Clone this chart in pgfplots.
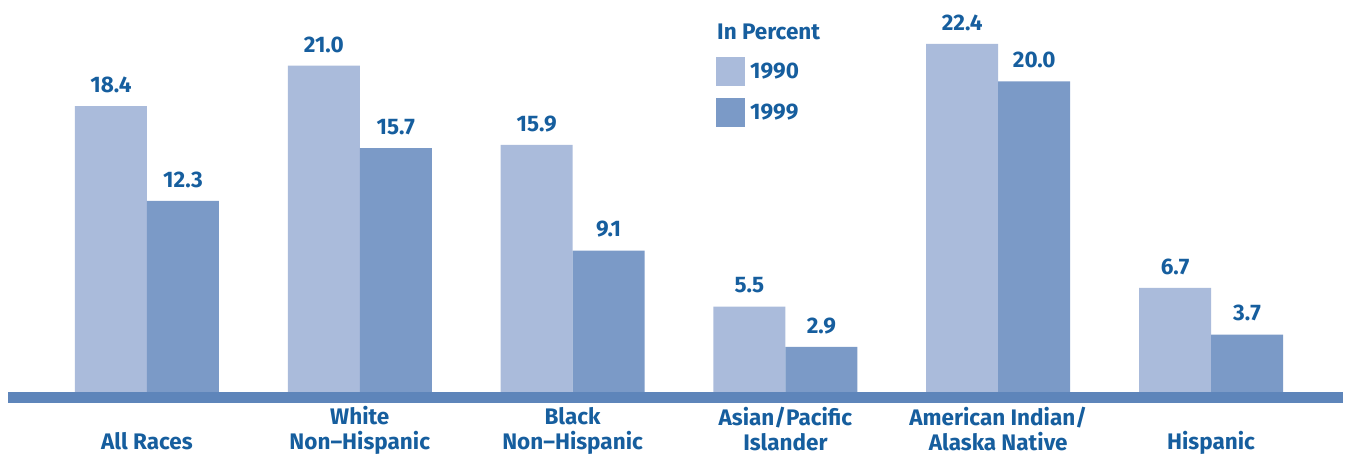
\documentclass[border=0pt]{standalone}
\usepackage{pgfplots}
\pgfplotsset{compat=1.18}
\usepackage{fontspec}
\setmainfont{Fira Sans}
\definecolor{tblue}{RGB}{22,94,158}
\definecolor{lightbar}{RGB}{170,187,219}
\definecolor{darkbar}{RGB}{123,154,199}
\definecolor{bandblue}{RGB}{94,133,186}
\newcommand{\lblfont}{\fontsize{22.5}{25}\selectfont\bfseries}
\newcommand{\fl}{\rule{0pt}{18pt}}
\begin{document}
\begin{tikzpicture}[x=1pt,y=1pt]
\useasboundingbox (0,0) rectangle (1353,455);
\begin{axis}[
  at={(8pt,52pt)}, anchor=south west,
  scale only axis, width=1335pt, height=403pt,
  xmin=-0.653, xmax=5.62, ymin=-0.708, ymax=25.23,
  ybar=0pt, bar width=72pt,
  axis line style={draw=none}, major tick length=0pt,
  ytick=\empty, xtick={0,1,2,3,4,5},
  xticklabels={{\fl\\All Races},{\fl White\\Non--Hispanic},{\fl Black\\Non--Hispanic},{\fl Asian/Pacific\\Islander},{\fl American Indian/\\Alaska Native},{\fl\\Hispanic}},
  xticklabel style={font=\lblfont, text=tblue, align=center, anchor=north, inner sep=0pt, yshift=-3.5pt},
  nodes near coords={\pgfmathprintnumber[fixed,fixed zerofill,precision=1,assume math mode=true]{\pgfplotspointmeta}},
  nodes near coords style={font=\lblfont, text=tblue, anchor=base, inner sep=0pt, yshift=13.7pt},
  clip=false,
  legend style={at={(rel axis cs:0.5303,0.8586)}, anchor=north west, draw=none, fill=none, inner sep=0pt, row sep=12pt, column sep=5pt, font=\lblfont, text=tblue, nodes={inner sep=0pt}},
  legend cell align=left,
  legend image code/.code={\path[#1] (0pt,-14.5pt) rectangle (29pt,14.5pt);},
]
\addplot[fill=lightbar, draw=none] coordinates {(0,18.4) (1,21.0) (2,15.9) (3,5.5) (4,22.4) (5,6.7)};
\addplot[fill=darkbar, draw=none] coordinates {(0,12.3) (1,15.7) (2,9.1) (3,2.9) (4,20.0) (5,3.7)};
\legend{1990,1999}
\fill[bandblue] (axis cs:-0.653,-0.708) rectangle (axis cs:5.62,0);
\node[anchor=base west, inner sep=0pt, font=\lblfont, text=tblue] at (rel axis cs:0.5311,0.9032) {In Percent};
\end{axis}
\end{tikzpicture}
\end{document}
